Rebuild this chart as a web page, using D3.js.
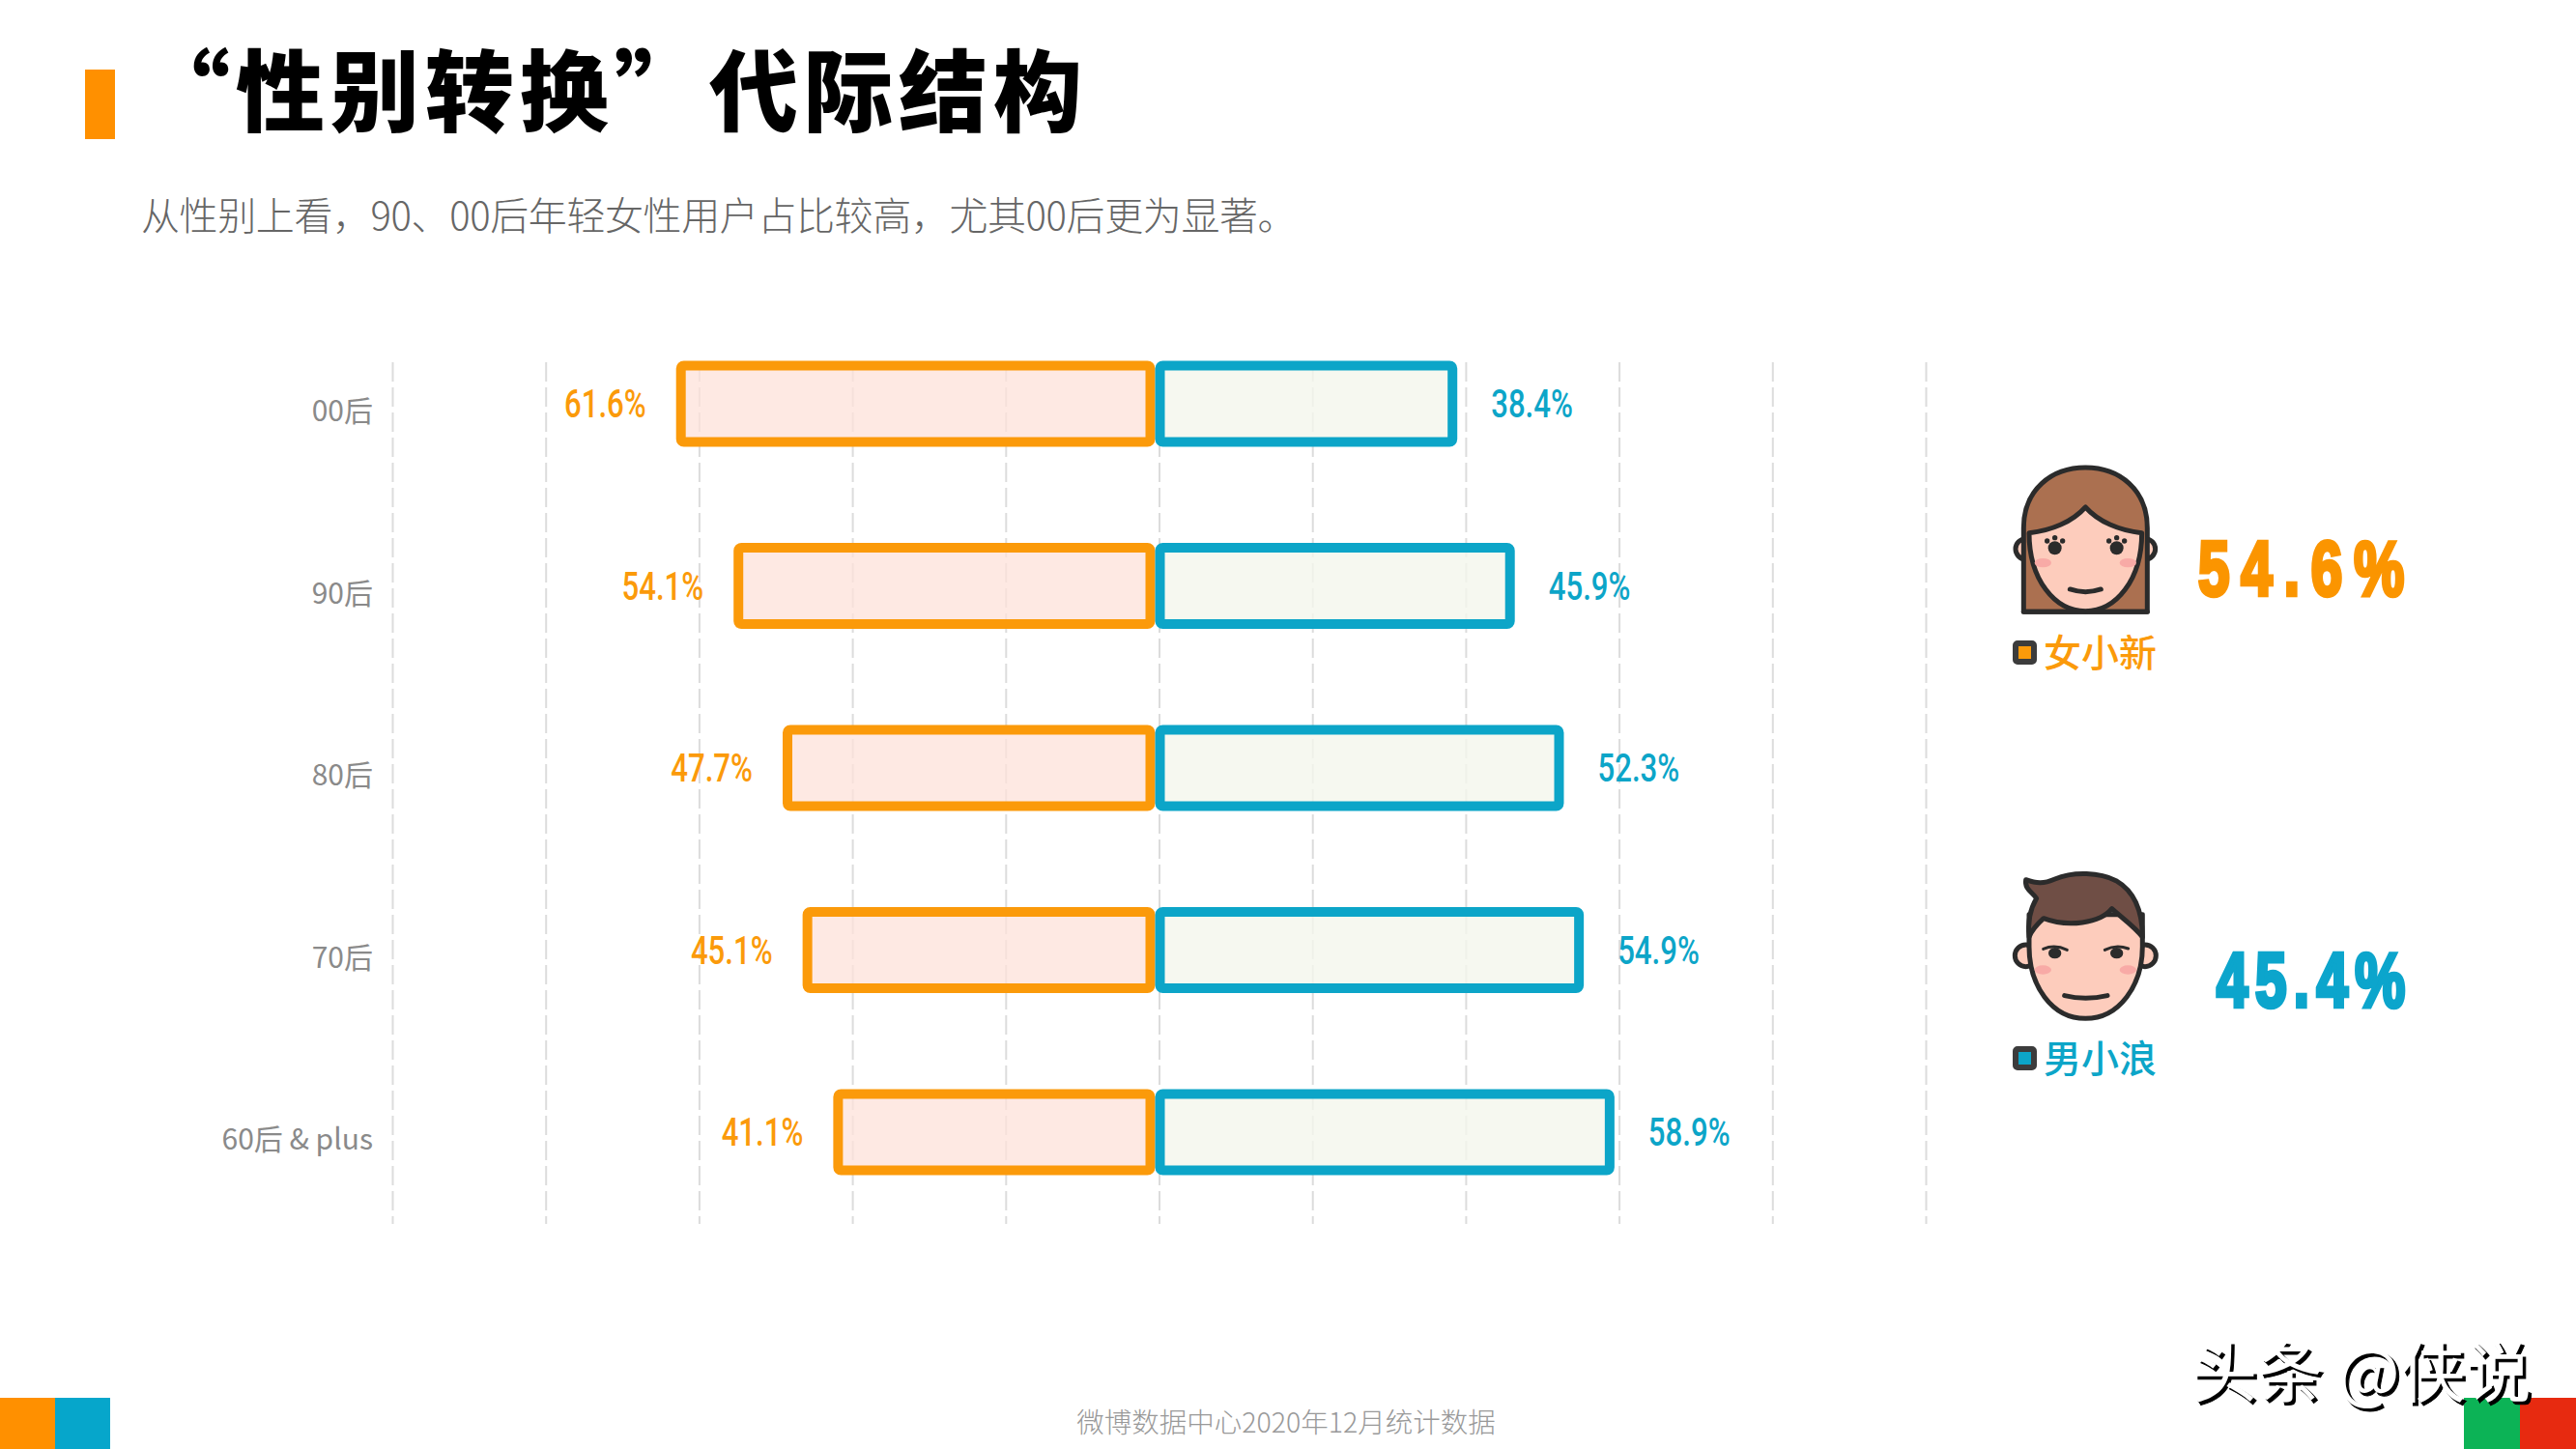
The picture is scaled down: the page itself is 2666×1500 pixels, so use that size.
<!DOCTYPE html>
<html>
<head>
<meta charset="utf-8">
<script src="https://cdn.jsdelivr.net/npm/d3@7/dist/d3.min.js"></script>
<style>
  html, body { margin: 0; padding: 0; background: #fff; }
  svg { display: block; }
  text { font-family: "Noto Sans CJK SC", sans-serif; }
  .num { font-family: Roboto, "Liberation Sans", sans-serif; font-weight: 500; }
  .big { font-family: "Liberation Sans", sans-serif; font-weight: 700; }
</style>
</head>
<body>
<div id="chart"></div>
<script>
var categories = ['00后', '90后', '80后', '70后', '60后 & plus']
var female = [61.6, 54.1, 47.7, 45.1, 41.1]
var male = [38.4, 45.9, 52.3, 54.9, 58.9]
var ticks = [-100, -80, -60, -40, -20, 0, 20, 40, 60, 80, 100]
var overall = [54.6, 45.4]
var names = ['女小新', '男小浪']

var orange = '#fb9a0a'
  , teal = '#0ca5c8'
  , dark = '#2b2b2b'
  , skin = '#fdccbc'
  , blush = '#f8aaa6'
  , bar_height = 79
  , bar_stroke = 10
  , squeeze = 0.76

var svg = d3.select('#chart').append('svg').attr('width', 2666).attr('height', 1500)

// headline block
svg.append('rect').attr('x', 88).attr('y', 72).attr('width', 31).attr('height', 72).attr('fill', '#ff9000')
svg.append('text').text('“性别转换”代际结构')
  .attr('x', 146).attr('y', 129).attr('font-size', 92).attr('font-weight', 900)
  .attr('letter-spacing', 6).attr('fill', '#000')
svg.append('text').text('从性别上看，90、00后年轻女性用户占比较高，尤其00后更为显著。')
  .attr('x', 146).attr('y', 238).attr('font-size', 40).attr('font-weight', 300)
  .attr('letter-spacing', -0.4).attr('fill', '#666')

// scales
var x = d3.scaleLinear().domain([-100, 100]).range([406, 1993])
var y = d3.scalePoint().domain(categories).range([418, 1172])

// dashed grid
var grid = svg.append('g').attr('transform', 'translate(0,375)')
  .call(d3.axisBottom(x).tickValues(ticks).tickSize(892).tickFormat(''))
grid.select('.domain').remove()
grid.selectAll('line').attr('stroke', '#dcdcdc').attr('stroke-width', 2).attr('stroke-dasharray', '20 6')

// category labels
var cat_axis = svg.append('g').attr('transform', 'translate(386,8)')
  .call(d3.axisLeft(y).tickSize(0).tickPadding(0))
cat_axis.select('.domain').remove()
cat_axis.selectAll('text')
  .attr('font-size', 30).attr('fill', '#8a8a8a')
  .style('font-family', '"Noto Sans CJK SC", sans-serif')

// bars, left side female, right side male
var rows = svg.append('g').selectAll('g').data(categories).enter().append('g')
  .attr('transform', function(d){ return 'translate(0,' + y(d) + ')' })

rows.append('rect')
  .attr('x', function(d, i){ return x(-female[i]) - 6 })
  .attr('width', function(d, i){ return x(0) - 9 - x(-female[i]) + 6 })
  .attr('y', -bar_height / 2).attr('height', bar_height).attr('rx', 3)
  .attr('fill', 'rgba(253,226,218,.75)').attr('stroke', orange).attr('stroke-width', bar_stroke)

rows.append('rect')
  .attr('x', x(0) + 1)
  .attr('width', function(d, i){ return x(male[i]) - x(0) - 2 })
  .attr('y', -bar_height / 2).attr('height', bar_height).attr('rx', 3)
  .attr('fill', 'rgba(244,246,236,.8)').attr('stroke', teal).attr('stroke-width', bar_stroke)

rows.append('text').attr('class', 'num')
  .text(function(d, i){ return female[i].toFixed(1) + '%' })
  .attr('transform', function(d, i){ return 'translate(' + (x(-female[i]) - 42) + ',0) scale(' + squeeze + ',1)' })
  .attr('text-anchor', 'end').attr('dominant-baseline', 'central')
  .attr('font-size', 41).attr('fill', orange)

rows.append('text').attr('class', 'num')
  .text(function(d, i){ return male[i].toFixed(1) + '%' })
  .attr('transform', function(d, i){ return 'translate(' + (x(male[i]) + 39) + ',0) scale(' + squeeze + ',1)' })
  .attr('dominant-baseline', 'central')
  .attr('font-size', 41).attr('fill', teal)

// big share numbers
function bigNumber(val, left, base, color, spacing){
  svg.append('text').attr('class', 'big').text(val.toFixed(1) + '%')
    .attr('transform', 'translate(' + left + ',' + base + ') scale(0.74,1)')
    .attr('font-size', 79).attr('letter-spacing', spacing)
    .attr('fill', color).attr('stroke', color).attr('stroke-width', 4.5)
}
bigNumber(overall[0], 2275, 616, '#fb9500', 16)
bigNumber(overall[1], 2294, 1042, '#0ca5cc', 10)

// legend chips
function legend(name, top, color){
  svg.append('rect').attr('x', 2086).attr('y', top + 3).attr('width', 19).attr('height', 19).attr('rx', 2)
    .attr('fill', color).attr('stroke', '#3c3c3c').attr('stroke-width', 6)
  svg.append('text').text(name).attr('x', 2115).attr('y', top + 27)
    .attr('font-size', 39).attr('font-weight', 500).attr('fill', color)
}
legend(names[0], 663, orange)
legend(names[1], 1083, teal)

// faces, drawn at 3x so the paths are easier to read
function paint(sel){
  return sel.attr('stroke', dark).attr('stroke-width', 15).attr('stroke-linejoin', 'round').attr('stroke-linecap', 'round')
}
function cheeks(g, cy){
  g.selectAll('ellipse.cheek').data([223, 487]).enter().append('ellipse').attr('class', 'cheek')
    .attr('cx', function(d){ return d }).attr('cy', cy).attr('rx', 26).attr('ry', 14).attr('fill', blush)
}
function ears(g, cy, r){
  paint(g.selectAll('circle.ear').data([170, 540]).enter().append('circle').attr('class', 'ear')
    .attr('cx', function(d){ return d }).attr('cy', cy).attr('r', r).attr('fill', skin))
}

var girl = svg.append('g').attr('transform', 'translate(2040,460) scale(0.3333)')
ears(girl, 325, 32)
paint(girl.append('path').attr('fill', '#ab7050')
  .attr('d', 'M163,520 L163,260 C163,140 250,72 355,72 C460,72 547,140 547,260 L547,520 Z'))
paint(girl.append('path').attr('fill', skin)
  .attr('d', 'M180,275 C180,420 260,518 355,518 C450,518 530,420 530,275 C460,268 395,240 355,195 C315,240 250,268 180,275 Z'))
paint(girl.append('path').attr('fill', 'none').attr('d', 'M163,520 L547,520'))
cheeks(girl, 368)
girl.selectAll('g.eye').data([260, 452]).enter().append('g').attr('class', 'eye')
  .attr('transform', function(d){ return 'translate(' + d + ',322)' })
  .each(function(){
    var e = d3.select(this)
    e.append('circle').attr('r', 21).attr('fill', dark)
    e.selectAll('circle.lash').data([[-24, -22], [0, -32], [24, -22]]).enter().append('circle').attr('class', 'lash')
      .attr('cx', function(d){ return d[0] }).attr('cy', function(d){ return d[1] }).attr('r', 8).attr('fill', dark)
  })
paint(girl.append('path').attr('fill', 'none').attr('d', 'M307,450 Q355,466 403,450'))

var boy = svg.append('g').attr('transform', 'translate(2040,880) scale(0.3333)')
ears(boy, 328, 34)
paint(boy.append('path').attr('fill', skin)
  .attr('d', 'M180,270 L180,300 C180,420 250,523 355,523 C460,523 532,420 532,300 L532,200 L180,200 Z'))
paint(boy.append('path').attr('fill', '#6f4e45')
  .attr('d', 'M203,150 C190,130 165,122 170,92 C205,105 225,105 260,90 C320,65 400,70 450,95 C510,130 532,190 532,270 C510,240 470,212 437,182 C400,228 300,240 225,212 C205,230 190,245 180,270 C175,220 185,180 203,150 Z'))
cheeks(boy, 372)
boy.selectAll('ellipse.eye').data([260, 452]).enter().append('ellipse').attr('class', 'eye')
  .attr('cx', function(d){ return d }).attr('cy', 320).attr('rx', 20).attr('ry', 17).attr('fill', dark)
paint(boy.append('path').attr('fill', 'none').attr('d', 'M224,307 Q260,292 298,310 M415,310 Q450,292 488,306')).attr('stroke-width', 9)
paint(boy.append('path').attr('fill', 'none').attr('d', 'M290,452 Q355,468 423,452'))

// corner tabs and footer
var tabs = [[0, 57, '#ff9000'], [57, 57, '#06a6cb'], [2550, 58, '#0cb356'], [2608, 58, '#e72a10']]
svg.append('g').selectAll('rect').data(tabs).enter().append('rect')
  .attr('x', function(d){ return d[0] }).attr('width', function(d){ return d[1] })
  .attr('y', 1447).attr('height', 53).attr('fill', function(d){ return d[2] })

svg.append('text').text('微博数据中心2020年12月统计数据')
  .attr('x', 1331).attr('y', 1483).attr('text-anchor', 'middle')
  .attr('font-size', 28.5).attr('font-weight', 300).attr('fill', '#999')

// watermark, white letters over a dark offset copy
svg.append('text').text('头条 @侠说').attr('x', 2268).attr('y', 1446)
  .attr('font-size', 68).attr('fill', '#000').attr('stroke', '#000').attr('stroke-width', 1)
  .attr('transform', 'translate(3,3)')
svg.append('text').text('头条 @侠说').attr('x', 2268).attr('y', 1446)
  .attr('font-size', 68).attr('fill', '#fff')
</script>
</body>
</html>
